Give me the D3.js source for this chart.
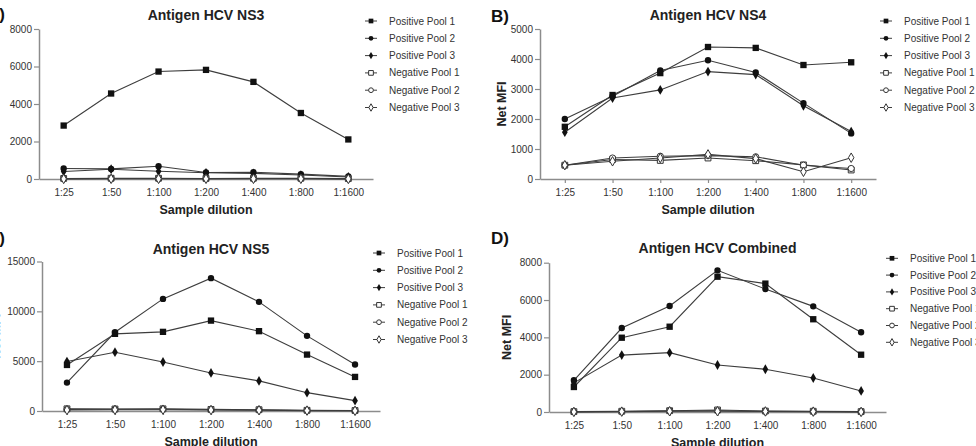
<!DOCTYPE html>
<html>
<head>
<meta charset="utf-8">
<script src="https://cdn.jsdelivr.net/npm/d3@7"></script>
<style>
  body { margin: 0; background: #fff; }
  svg { display: block; font-family: "Liberation Sans", Arial, sans-serif; }
</style>
</head>
<body>
<div id="chart"></div>
<script>
const dilutions = ["1:25", "1:50", "1:100", "1:200", "1:400", "1:800", "1:1600"];
const seriesNames = ["Positive Pool 1", "Positive Pool 2", "Positive Pool 3",
                     "Negative Pool 1", "Negative Pool 2", "Negative Pool 3"];

// NS3
const ns3Pos1 = [2850, 4560, 5730, 5820, 5180, 3520, 2110];
const ns3Pos2 = [560, 540, 680, 350, 360, 260, 140];
const ns3Pos3 = [400, 520, 410, 330, 300, 210, 110];
const ns3Neg1 = [30, 40, 40, 30, 40, 40, 20];
const ns3Neg2 = [15, 25, 25, 20, 25, 25, 10];
const ns3Neg3 = [5, 10, 10, 10, 10, 10, 5];
// NS4
const ns4Pos1 = [1740, 2800, 3530, 4400, 4370, 3800, 3890];
const ns4Pos2 = [2000, 2760, 3620, 3960, 3550, 2530, 1520];
const ns4Pos3 = [1560, 2700, 2970, 3580, 3480, 2440, 1580];
const ns4Neg1 = [460, 650, 620, 700, 610, 470, 300];
const ns4Neg2 = [460, 700, 760, 780, 740, 460, 350];
const ns4Neg3 = [460, 590, 700, 820, 680, 240, 710];
// NS5
const ns5Pos1 = [4620, 7740, 7940, 9070, 8010, 5660, 3420];
const ns5Pos2 = [2850, 7900, 11250, 13330, 10950, 7540, 4660];
const ns5Pos3 = [4960, 5900, 4920, 3820, 3020, 1840, 1040];
const ns5Neg1 = [220, 200, 220, 160, 130, 70, 50];
const ns5Neg2 = [160, 170, 180, 130, 100, 50, 30];
const ns5Neg3 = [100, 120, 130, 100, 80, 40, 20];
// Combined
const combPos1 = [1340, 3980, 4570, 7250, 6880, 4970, 3070];
const combPos2 = [1700, 4500, 5680, 7590, 6590, 5660, 4270];
const combPos3 = [1560, 3050, 3180, 2520, 2290, 1820, 1130];
const combNeg1 = [20, 40, 70, 110, 50, 40, 20];
const combNeg2 = [10, 30, 50, 70, 40, 30, 10];
const combNeg3 = [5, 20, 40, 40, 30, 20, 5];

const ns3Ticks = [0, 2000, 4000, 6000, 8000];
const ns4Ticks = [0, 1000, 2000, 3000, 4000, 5000];
const ns5Ticks = [0, 5000, 10000, 15000];
const combTicks = [0, 2000, 4000, 6000, 8000];

const panels = [
  { letter: "A)", title: "Antigen HCV NS3", series: [ns3Pos1, ns3Pos2, ns3Pos3, ns3Neg1, ns3Neg2, ns3Neg3],
    ticks: ns3Ticks, yMax: 8000, x0: 39, x1: 373, yBase: 179, yTop: 29,
    letterX: -13, letterY: 20, titleY: 19.5, labelX: -1, legX: 371, legY: 21, legStep: 17.3 },
  { letter: "B)", title: "Antigen HCV NS4", series: [ns4Pos1, ns4Pos2, ns4Pos3, ns4Neg1, ns4Neg2, ns4Neg3],
    ticks: ns4Ticks, yMax: 5000, x0: 540, x1: 876, yBase: 179, yTop: 29,
    letterX: 491, letterY: 22, titleY: 19.5, labelX: 506, legX: 886, legY: 21, legStep: 17.3 },
  { letter: "C)", title: "Antigen HCV NS5", series: [ns5Pos1, ns5Pos2, ns5Pos3, ns5Neg1, ns5Neg2, ns5Neg3],
    ticks: ns5Ticks, yMax: 15000, x0: 42, x1: 380, yBase: 411, yTop: 261.5,
    letterX: -13, letterY: 244, titleY: 253.5, labelX: 0, legX: 379, legY: 253, legStep: 17.3 },
  { letter: "D)", title: "Antigen HCV Combined", series: [combPos1, combPos2, combPos3, combNeg1, combNeg2, combNeg3],
    ticks: combTicks, yMax: 8000, x0: 549, x1: 886, yBase: 412, yTop: 262.7,
    letterX: 491, letterY: 244, titleY: 253, labelX: 511, legX: 892, legY: 258.3, legStep: 16.8 }
];

const symbols = [d3.symbolSquare, d3.symbolCircle, d3.symbolDiamond,
                 d3.symbolSquare, d3.symbolCircle, d3.symbolDiamond];
const plotSizes = [40, 32, 28, 34, 30, 26];
const legSizes = [22, 18, 16, 22, 18, 16];
const lineColor = "#3d3d3d";
const axisColor = "#8c8c8c";

const svg = d3.select("#chart").append("svg")
    .attr("width", 976)
    .attr("height", 446);

panels.forEach(function (p) {
  const g = svg.append("g");

  const x = d3.scalePoint()
      .domain(dilutions)
      .range([p.x0, p.x1])
      .padding(0.52);

  const y = d3.scaleLinear()
      .domain([0, p.yMax])
      .range([p.yBase, p.yTop]);

  // axes
  const yAxis = g.append("g")
      .attr("transform", `translate(${p.x0},0)`)
      .call(d3.axisLeft(y).tickValues(p.ticks).tickFormat(d3.format("d"))
          .tickSize(5).tickSizeOuter(0).tickPadding(2));
  const xAxis = g.append("g")
      .attr("transform", `translate(0,${p.yBase})`)
      .call(d3.axisBottom(x).tickSize(4).tickSizeOuter(0).tickPadding(6));
  [xAxis, yAxis].forEach(function (a) {
    a.select(".domain").attr("stroke", axisColor).attr("stroke-width", 1.5);
    a.selectAll(".tick line").attr("stroke", axisColor).attr("stroke-width", 1.2);
    a.selectAll(".tick text")
        .attr("fill", "#333")
        .style("font-size", "10px")
        .style("font-family", "'Liberation Sans', Arial, sans-serif");
  });

  // panel letter and title
  g.append("text")
      .attr("x", p.letterX)
      .attr("y", p.letterY)
      .style("font-size", "17px")
      .style("font-weight", "bold")
      .attr("fill", "#111")
      .text(p.letter);

  g.append("text")
      .attr("x", (p.x0 + p.x1) / 2)
      .attr("y", p.titleY)
      .style("text-anchor", "middle")
      .style("font-size", "14px")
      .style("font-weight", "bold")
      .attr("fill", "#222")
      .text(p.title);

  g.append("text")
      .attr("x", (p.x0 + p.x1) / 2)
      .attr("y", p.yBase + 35)
      .style("text-anchor", "middle")
      .style("font-size", "12.5px")
      .style("font-weight", "bold")
      .attr("fill", "#222")
      .text("Sample dilution");

  g.append("text")
      .attr("transform", `translate(${p.labelX},${(p.yBase + p.yTop) / 2}) rotate(-90)`)
      .style("text-anchor", "middle")
      .style("font-size", "12.5px")
      .style("font-weight", "bold")
      .attr("fill", "#222")
      .text("Net MFI");

  // series lines and markers
  const line = d3.line()
      .x(function (d, i) { return x(dilutions[i]); })
      .y(function (d) { return y(d); });

  p.series.forEach(function (vals) {
    g.append("path")
        .datum(vals)
        .attr("fill", "none")
        .attr("stroke", lineColor)
        .attr("stroke-width", 1.1)
        .attr("d", line);
  });
  p.series.forEach(function (vals, si) {
    const open = si >= 3;
    g.selectAll(null)
        .data(vals)
        .enter()
        .append("path")
        .attr("transform", function (d, i) { return `translate(${x(dilutions[i])},${y(d)})`; })
        .attr("d", d3.symbol().type(symbols[si]).size(plotSizes[si]))
        .attr("fill", open ? "#fff" : "#111")
        .attr("stroke", open ? "#333" : "none")
        .attr("stroke-width", 1);
  });

  // legend
  seriesNames.forEach(function (name, si) {
    const ly = p.legY + si * p.legStep;
    const open = si >= 3;
    g.append("line")
        .attr("x1", p.legX - 6).attr("x2", p.legX + 6)
        .attr("y1", ly).attr("y2", ly)
        .attr("stroke", lineColor)
        .attr("stroke-width", 1);
    g.append("path")
        .attr("transform", `translate(${p.legX},${ly})`)
        .attr("d", d3.symbol().type(symbols[si]).size(legSizes[si]))
        .attr("fill", open ? "#fff" : "#111")
        .attr("stroke", open ? "#333" : "none")
        .attr("stroke-width", 1);
    g.append("text")
        .attr("x", p.legX + 18)
        .attr("y", ly + 3.5)
        .style("font-size", "10px")
        .attr("fill", "#333")
        .text(name);
  });
});
</script>
</body>
</html>
